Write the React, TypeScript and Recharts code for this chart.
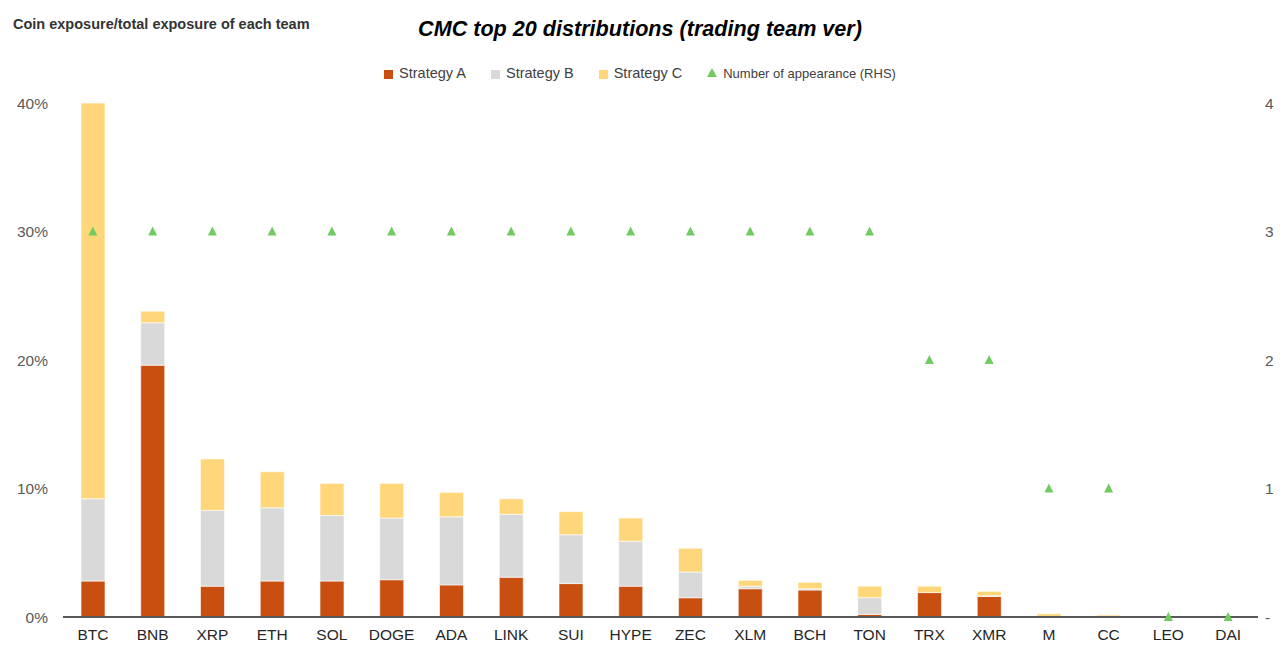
import { Bar, ComposedChart, Line, XAxis, YAxis } from 'recharts';

const coins = [
  'BTC', 'BNB', 'XRP', 'ETH', 'SOL', 'DOGE', 'ADA', 'LINK', 'SUI', 'HYPE',
  'ZEC', 'XLM', 'BCH', 'TON', 'TRX', 'XMR', 'M', 'CC', 'LEO', 'DAI',
];
// exposure shares, in %
const strategyA = [2.8, 19.6, 2.4, 2.8, 2.8, 2.9, 2.5, 3.1, 2.6, 2.4, 1.5, 2.2, 2.1, 0.2, 1.9, 1.6, 0, 0, 0, 0];
const strategyB = [6.4, 3.3, 5.9, 5.7, 5.1, 4.8, 5.3, 4.9, 3.8, 3.5, 2.0, 0.2, 0.1, 1.3, 0, 0.05, 0, 0, 0, 0];
const strategyC = [30.8, 0.9, 4.0, 2.8, 2.5, 2.7, 1.9, 1.2, 1.8, 1.8, 1.85, 0.45, 0.5, 0.9, 0.5, 0.35, 0.25, 0.15, 0, 0];
const appearances = [3, 3, 3, 3, 3, 3, 3, 3, 3, 3, 3, 3, 3, 3, 2, 2, 1, 1, 0, 0];

const leftTicks = [0, 10, 20, 30, 40];
const rightTicks = [0, 1, 2, 3, 4];

const COLOR_A = '#c84f0f';
const COLOR_B = '#d9d9d9';
const COLOR_C = '#ffd77a';
const COLOR_TRI = '#70cc60';

const FONT = '"Liberation Sans", Arial, sans-serif';

const data = coins.map((coin, i) => ({
  coin,
  a: strategyA[i],
  b: strategyB[i],
  c: strategyC[i],
  n: appearances[i],
}));

const legendItems = [
  { label: 'Strategy A', color: COLOR_A, shape: 'square' },
  { label: 'Strategy B', color: COLOR_B, shape: 'square' },
  { label: 'Strategy C', color: COLOR_C, shape: 'square' },
  { label: 'Number of appearance (RHS)', color: COLOR_TRI, shape: 'triangle' },
];

function Triangle(props: any) {
  const { cx, cy, index } = props;
  if (cx == null || cy == null) return <g key={`t-${index}`} />;
  return (
    <path
      key={`t-${index}`}
      d={`M${cx},${cy - 5} L${cx + 4.5},${cy + 4} L${cx - 4.5},${cy + 4} Z`}
      fill={COLOR_TRI}
    />
  );
}

function ChartLegend() {
  return (
    <div
      style={{
        position: 'absolute',
        top: 65,
        left: 0,
        width: 1280,
        display: 'flex',
        justifyContent: 'center',
        alignItems: 'center',
        gap: 25,
        fontFamily: FONT,
        color: '#404040',
      }}
    >
      {legendItems.map((item) => (
        <div key={item.label} style={{ display: 'flex', alignItems: 'center', gap: 6 }}>
          {item.shape === 'square' ? (
            <span style={{ width: 9, height: 9, background: item.color, display: 'inline-block', marginTop: 2 }} />
          ) : (
            <svg width={10} height={10}>
              <path d="M5,0 L10,9 L0,9 Z" fill={item.color} />
            </svg>
          )}
          <span style={{ fontSize: item.shape === 'square' ? 14.5 : 13 }}>{item.label}</span>
        </div>
      ))}
    </div>
  );
}

export default function App() {
  return (
    <div style={{ position: 'absolute', top: 0, left: 0, width: 1280, height: 656, background: '#fff', fontFamily: FONT }}>
      <div
        style={{
          position: 'absolute',
          top: 16,
          left: 13,
          fontSize: 14.5,
          fontWeight: 700,
          color: '#333',
        }}
      >
        Coin exposure/total exposure of each team
      </div>
      <div
        style={{
          position: 'absolute',
          top: 16,
          left: 0,
          width: 1280,
          textAlign: 'center',
          fontSize: 21.6,
          fontWeight: 700,
          fontStyle: 'italic',
          color: '#000',
        }}
      >
        CMC top 20 distributions (trading team ver)
      </div>
      <ChartLegend />
      <ComposedChart
        width={1280}
        height={656}
        data={data}
        margin={{ top: 103, right: 0, bottom: 0, left: 0 }}
        barCategoryGap={0}
        style={{ position: 'absolute', top: 0, left: 0 }}
      >
        <XAxis
          dataKey="coin"
          height={39}
          tickLine={false}
          tickSize={6}
          tickMargin={6}
          axisLine={{ stroke: '#595959', strokeWidth: 2 }}
          tick={{ fill: '#262626', fontSize: 15.5, fontFamily: FONT }}
          interval={0}
        />
        <YAxis
          yAxisId="left"
          width={63}
          domain={[0, 40]}
          ticks={leftTicks}
          axisLine={false}
          tickLine={false}
          tickSize={6}
          tickMargin={9}
          tickFormatter={(v: number) => `${v}%`}
          tick={{ fill: '#595959', fontSize: 15.5, fontFamily: FONT }}
        />
        <YAxis
          yAxisId="right"
          orientation="right"
          width={22}
          domain={[0, 4]}
          ticks={rightTicks}
          axisLine={false}
          tickLine={false}
          tickSize={6}
          tickMargin={1}
          tickFormatter={(v: number) => (v === 0 ? '-' : String(v))}
          tick={{ fill: '#595959', fontSize: 15.5, fontFamily: FONT, textAnchor: 'start' }}
        />
        <Bar yAxisId="left" dataKey="a" stackId="s" fill={COLOR_A} barSize={24} stroke="#fff" strokeOpacity={0.6} strokeWidth={1} isAnimationActive={false} />
        <Bar yAxisId="left" dataKey="b" stackId="s" fill={COLOR_B} barSize={24} stroke="#fff" strokeOpacity={0.6} strokeWidth={1} isAnimationActive={false} />
        <Bar yAxisId="left" dataKey="c" stackId="s" fill={COLOR_C} barSize={24} stroke="#fff" strokeOpacity={0.6} strokeWidth={1} isAnimationActive={false} />
        <Line
          yAxisId="right"
          dataKey="n"
          stroke="none"
          dot={Triangle}
          activeDot={false}
          isAnimationActive={false}
        />
      </ComposedChart>
    </div>
  );
}
